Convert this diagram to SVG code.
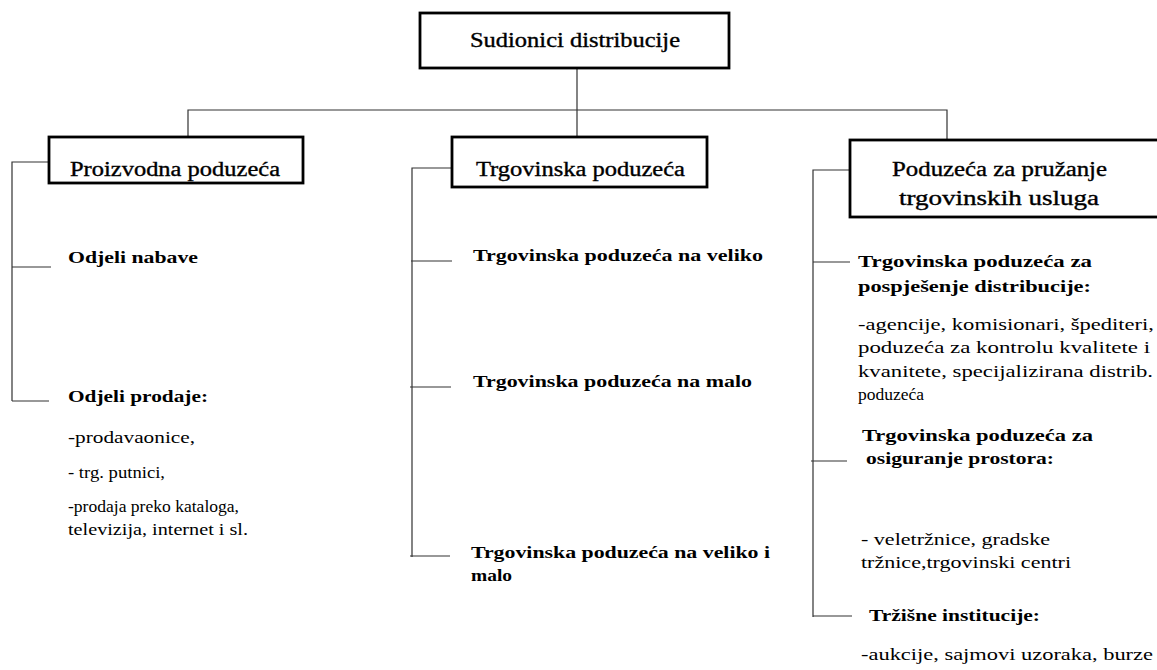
<svg xmlns="http://www.w3.org/2000/svg" width="1157" height="670" viewBox="0 0 1157 670">
<style>
.box{fill:#fff;stroke:#000;stroke-width:2.8}
text{font-family:"Liberation Serif","Times New Roman","DejaVu Serif",serif;fill:#000}
.hd{font-size:20px;stroke:#000;stroke-width:0.35}
.b{font-size:17px;font-weight:bold}
.r{font-size:16px}
.ln{fill:none;stroke:#333;stroke-width:1.2}
</style>
<rect width="1157" height="670" fill="#fff"/>
<g id="connectors">
<path class="ln" d="M577,68 V137 M188,137 V110 H947 V140"/>
<path class="ln" d="M49,162 H12 V401 M12,267 H51 M12,401 H49"/>
<path class="ln" d="M452,168 H412 V557 M411,261 H452 M410,387 H451 M410,556 H450"/>
<path class="ln" d="M850,170 H813 V617 M813,262 H850 M811,461 H847 M813,616 H852"/>
</g>
<g id="root">
<rect class="box" x="420" y="13" width="309" height="55"/>
<text class="hd" x="470" y="47" textLength="210" lengthAdjust="spacingAndGlyphs">Sudionici distribucije</text>
</g>
<g id="proizvodna">
<rect class="box" x="49" y="137" width="254" height="46"/>
<text class="hd" x="70" y="176" textLength="210" lengthAdjust="spacingAndGlyphs">Proizvodna poduzeća</text>
</g>
<g id="trgovinska">
<rect class="box" x="452" y="137" width="255" height="50"/>
<text class="hd" x="476" y="176" textLength="209" lengthAdjust="spacingAndGlyphs">Trgovinska poduzeća</text>
</g>
<g id="usluge">
<rect class="box" x="850" y="140" width="320" height="77"/>
<text class="hd" x="892" y="176" textLength="215" lengthAdjust="spacingAndGlyphs">Poduzeća za pružanje</text>
<text class="hd" x="899" y="205" textLength="200" lengthAdjust="spacingAndGlyphs">trgovinskih usluga</text>
</g>
<g id="odjeli-nabave">
<text class="b" x="68" y="263" textLength="130" lengthAdjust="spacingAndGlyphs">Odjeli nabave</text>
</g>
<g id="odjeli-prodaje">
<text class="b" x="68" y="402" textLength="140" lengthAdjust="spacingAndGlyphs">Odjeli prodaje:</text>
<text class="r" x="68" y="443" textLength="127" lengthAdjust="spacingAndGlyphs">-prodavaonice,</text>
<text class="r" x="68" y="478" textLength="97" lengthAdjust="spacingAndGlyphs">- trg. putnici,</text>
<text class="r" x="68" y="512" textLength="171" lengthAdjust="spacingAndGlyphs">-prodaja preko kataloga,</text>
<text class="r" x="68" y="535" textLength="180" lengthAdjust="spacingAndGlyphs">televizija, internet i sl.</text>
</g>
<g id="veliko">
<text class="b" x="473" y="261" textLength="290" lengthAdjust="spacingAndGlyphs">Trgovinska poduzeća na veliko</text>
</g>
<g id="malo">
<text class="b" x="473" y="387" textLength="279" lengthAdjust="spacingAndGlyphs">Trgovinska poduzeća na malo</text>
</g>
<g id="veliko-malo">
<text class="b" x="471" y="558" textLength="299" lengthAdjust="spacingAndGlyphs">Trgovinska poduzeća na veliko i</text>
<text class="b" x="471" y="581" textLength="41" lengthAdjust="spacingAndGlyphs">malo</text>
</g>
<g id="pospjesenje">
<text class="b" x="858" y="267" textLength="234" lengthAdjust="spacingAndGlyphs">Trgovinska poduzeća za</text>
<text class="b" x="858" y="292" textLength="233" lengthAdjust="spacingAndGlyphs">pospješenje distribucije:</text>
<text class="r" x="858" y="330" textLength="296" lengthAdjust="spacingAndGlyphs">-agencije, komisionari, špediteri,</text>
<text class="r" x="858" y="353" textLength="292" lengthAdjust="spacingAndGlyphs">poduzeća za kontrolu kvalitete i</text>
<text class="r" x="858" y="377" textLength="295" lengthAdjust="spacingAndGlyphs">kvanitete, specijalizirana  distrib.</text>
<text class="r" x="858" y="400" textLength="66" lengthAdjust="spacingAndGlyphs">poduzeća</text>
</g>
<g id="prostor">
<text class="b" x="862" y="441" textLength="231" lengthAdjust="spacingAndGlyphs">Trgovinska poduzeća za</text>
<text class="b" x="866" y="464" textLength="188" lengthAdjust="spacingAndGlyphs">osiguranje prostora:</text>
<text class="r" x="861" y="545" textLength="189" lengthAdjust="spacingAndGlyphs">- veletržnice,  gradske</text>
<text class="r" x="861" y="568" textLength="210" lengthAdjust="spacingAndGlyphs">tržnice,trgovinski  centri</text>
</g>
<g id="institucije">
<text class="b" x="869" y="621" textLength="171" lengthAdjust="spacingAndGlyphs">Tržišne institucije:</text>
<text class="r" x="861" y="660" textLength="292" lengthAdjust="spacingAndGlyphs">-aukcije, sajmovi  uzoraka, burze</text>
</g>
</svg>
